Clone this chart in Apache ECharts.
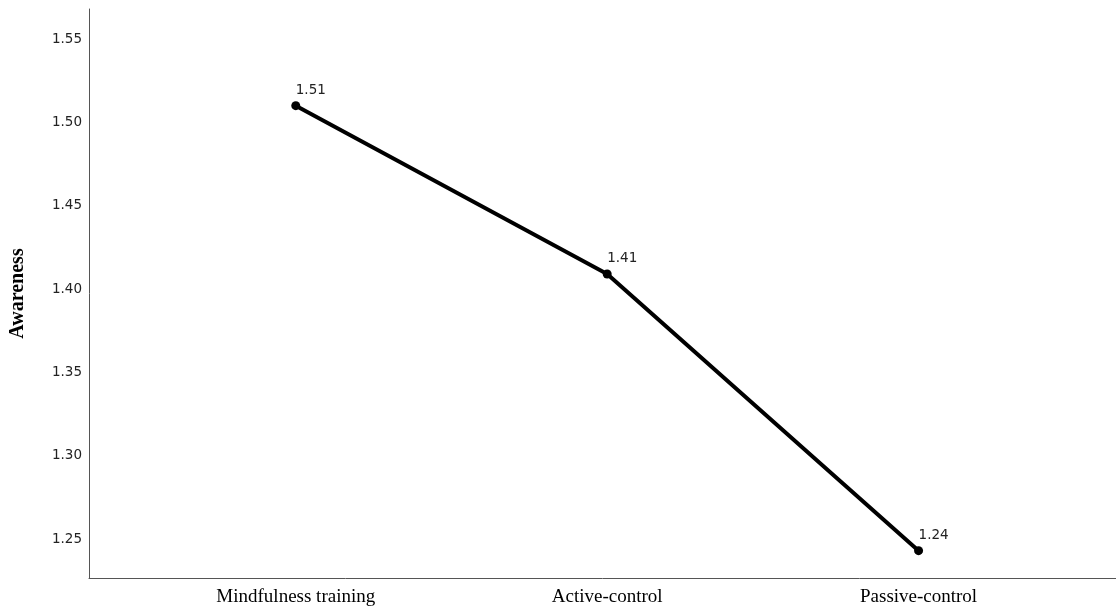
<!DOCTYPE html>
<html>
<head>
<meta charset="utf-8">
<script src="https://cdn.jsdelivr.net/npm/echarts@6/dist/echarts.min.js"></script>
<style>html,body{margin:0;padding:0;background:#fff}#c{width:1116px;height:612px}</style>
</head>
<body>
<div id="c"></div>
<script>
var categories = ["Mindfulness training", "Active-control", "Passive-control"];
var awareness = [1.51, 1.409, 1.243];
var valueLabels = ["1.51", "1.41", "1.24"];
var yTicks = [1.25, 1.30, 1.35, 1.40, 1.45, 1.50, 1.55];
var yAxisName = "Awareness";

var chart = echarts.init(document.getElementById('c'), null, {renderer: 'canvas'});
var seriesData = awareness.map(function (v, i) { return [i, v]; });
chart.setOption({
  animation: false,
  grid: {left: 88, right: 0, top: 9, bottom: 34, containLabel: false},
  xAxis: {
    type: 'value',
    min: -0.664,
    max: 2.634,
    axisLine: {show: true, onZero: false, lineStyle: {color: '#555', width: 1}},
    axisTick: {show: false},
    splitLine: {show: false},
    axisLabel: {
      customValues: [0, 1, 2],
      formatter: function (v) { return categories[Math.round(v)]; },
      fontFamily: 'Liberation Serif',
      fontSize: 19,
      color: '#000',
      margin: 10
    }
  },
  yAxis: {
    type: 'value',
    min: 1.2266,
    max: 1.568,
    name: yAxisName,
    nameLocation: 'middle',
    nameGap: 61,
    nameRotate: 90,
    nameTextStyle: {fontFamily: 'Liberation Serif', fontWeight: 'bold', fontSize: 20, color: '#000'},
    axisLine: {show: true, onZero: false, lineStyle: {color: '#555', width: 1}},
    axisTick: {show: false},
    splitLine: {show: false},
    axisLabel: {
      customValues: yTicks,
      formatter: function (v) { return v.toFixed(2); },
      fontFamily: 'DejaVu Sans',
      fontSize: 13.5,
      color: '#222',
      margin: 7
    }
  },
  series: [{
    type: 'line',
    data: seriesData,
    symbol: 'circle',
    symbolSize: 9,
    lineStyle: {color: '#000', width: 4},
    itemStyle: {color: '#000'},
    label: {
      show: true,
      position: 'top',
      align: 'left',
      distance: 4,
      offset: [0, 0],
      fontFamily: 'DejaVu Sans',
      fontSize: 13.5,
      color: '#222',
      formatter: function (p) { return valueLabels[p.dataIndex]; }
    }
  }]
});
</script>
</body>
</html>
